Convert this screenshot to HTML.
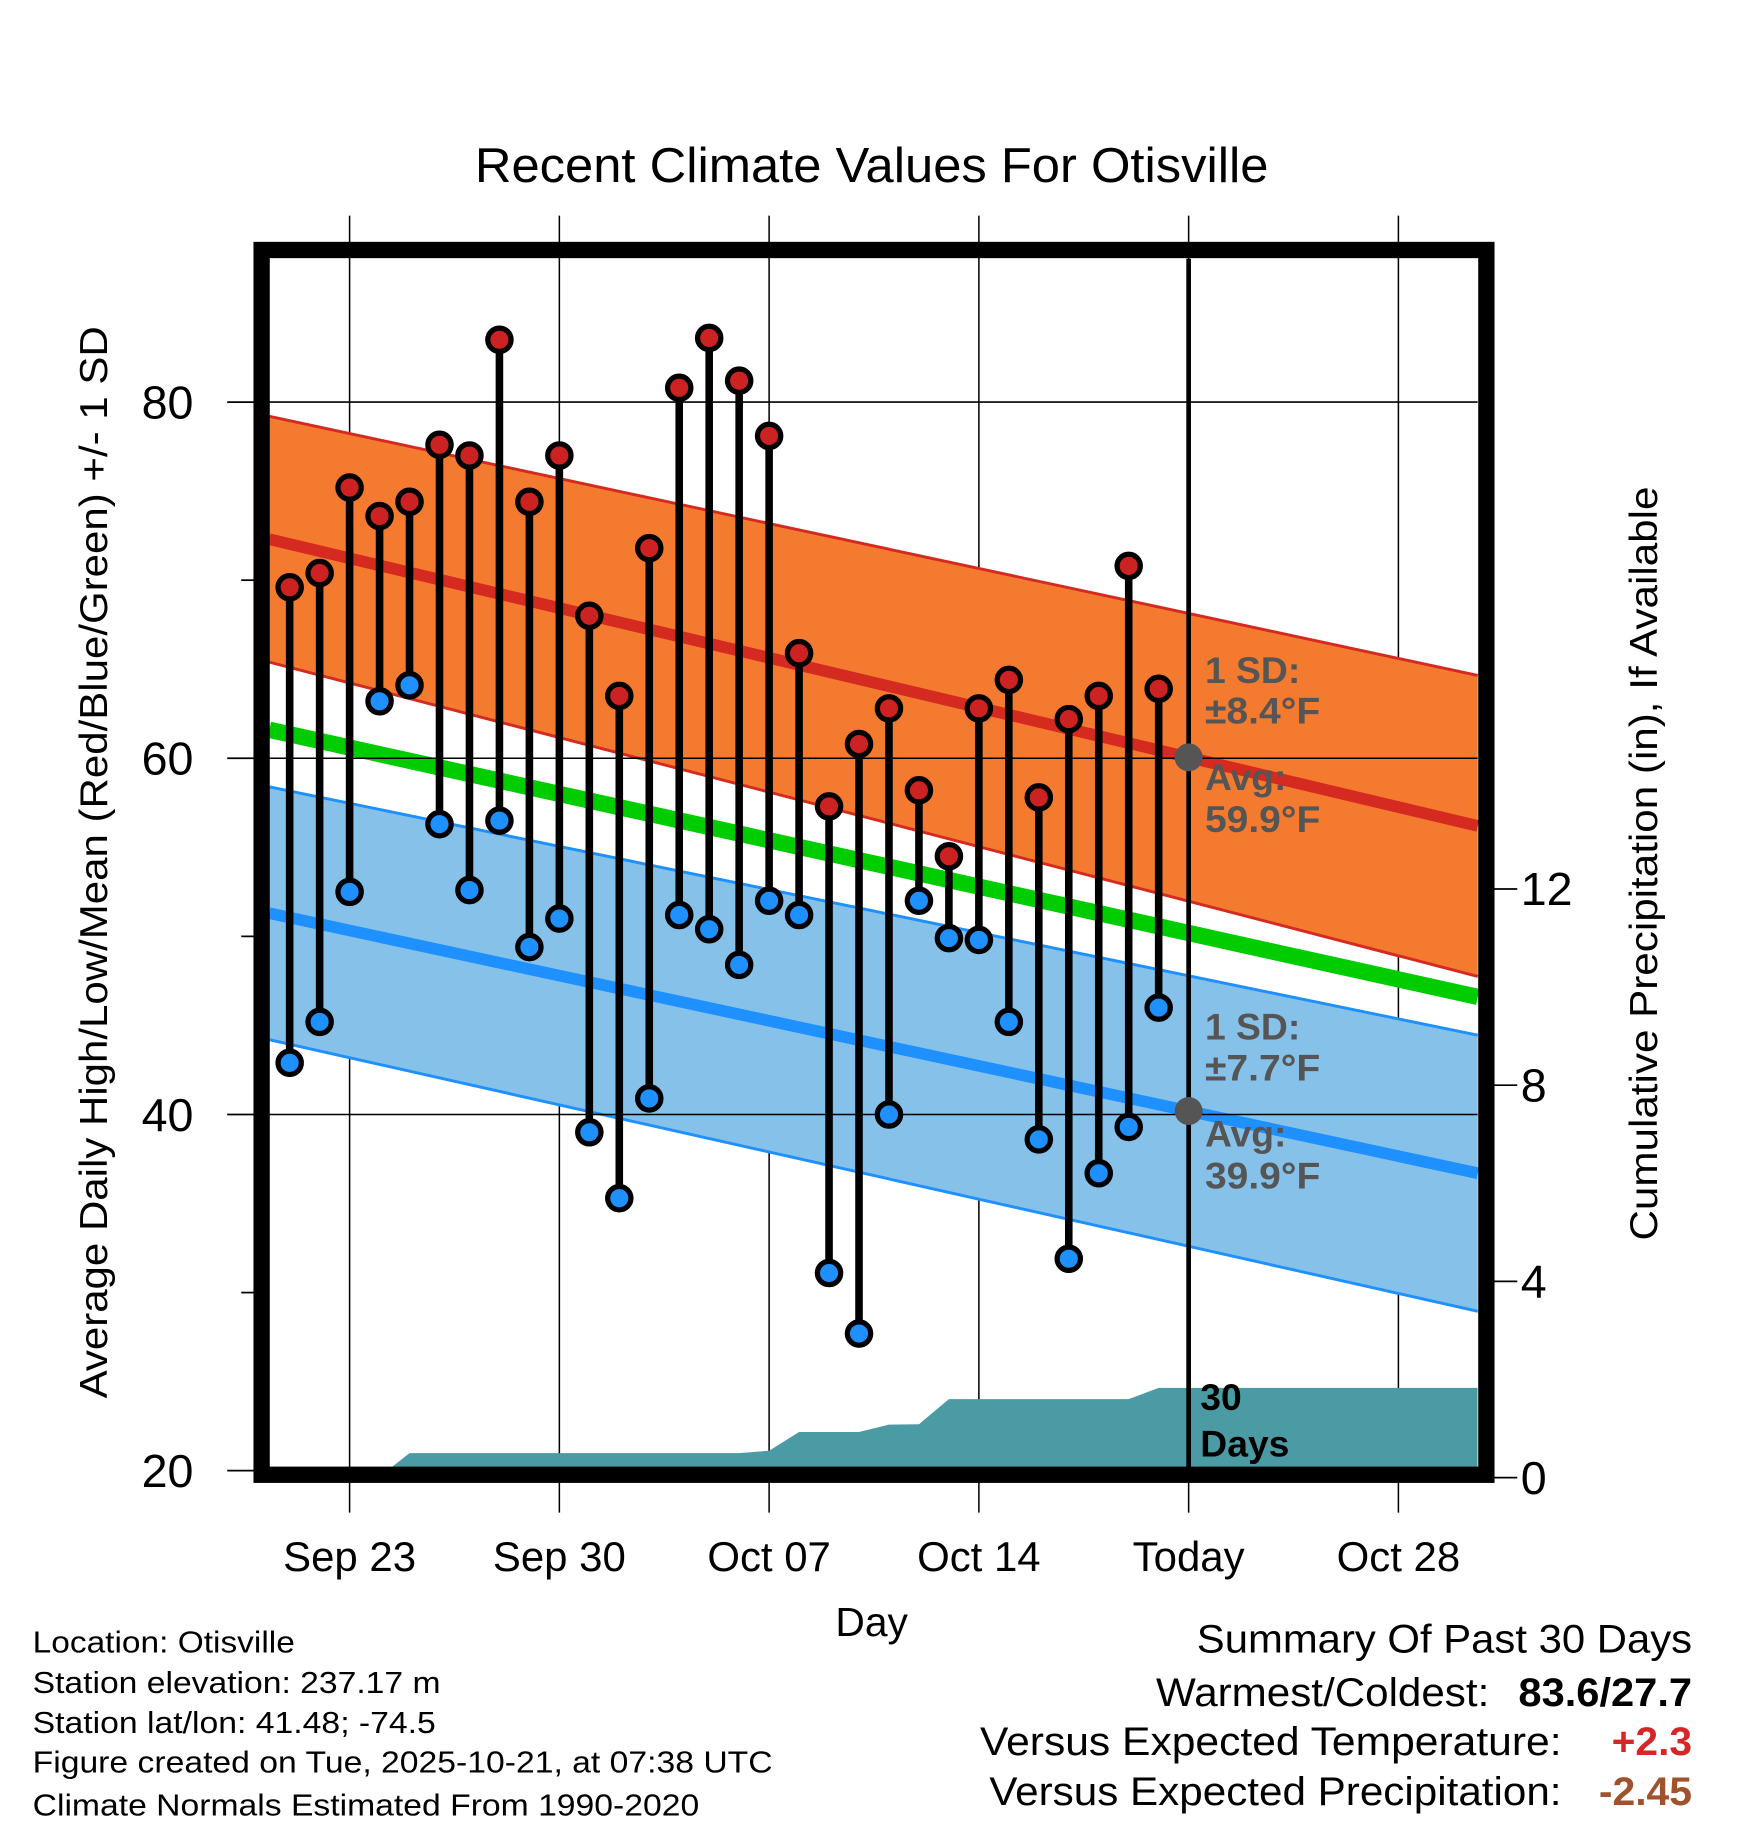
<!DOCTYPE html>
<html><head><meta charset="utf-8"><style>
html,body{margin:0;padding:0;background:#fff}
svg{display:block;font-family:"Liberation Sans",Arial,sans-serif}
</style></head><body>
<svg id="chart" width="1748" height="1828" viewBox="0 0 1500 1568.6" xmlns="http://www.w3.org/2000/svg">
<rect width="1500" height="1568.6" fill="#fff"/>
<text x="748" y="156" font-size="42" text-anchor="middle" textLength="681" lengthAdjust="spacingAndGlyphs">Recent Climate Values For Otisville</text>
<g id="plot"></g>
<text transform="translate(92,740) rotate(-90)" font-size="33" text-anchor="middle" textLength="920" lengthAdjust="spacingAndGlyphs">Average Daily High/Low/Mean (Red/Blue/Green) +/- 1 SD</text>
<text transform="translate(1422,741) rotate(-90)" font-size="33" text-anchor="middle" textLength="647" lengthAdjust="spacingAndGlyphs">Cumulative Precipitation (in), If Available</text>
<text x="748" y="1404" font-size="35" text-anchor="middle">Day</text>
<g font-size="26.5">
<text x="28" y="1418" textLength="225" lengthAdjust="spacingAndGlyphs">Location: Otisville</text>
<text x="28" y="1453" textLength="350" lengthAdjust="spacingAndGlyphs">Station elevation: 237.17 m</text>
<text x="28" y="1487" textLength="346" lengthAdjust="spacingAndGlyphs">Station lat/lon: 41.48; -74.5</text>
<text x="28" y="1521" textLength="635" lengthAdjust="spacingAndGlyphs">Figure created on Tue, 2025-10-21, at 07:38 UTC</text>
<text x="28" y="1558" textLength="572" lengthAdjust="spacingAndGlyphs">Climate Normals Estimated From 1990-2020</text>
</g>
<g font-size="34">
<text x="1027" y="1418" textLength="425" lengthAdjust="spacingAndGlyphs">Summary Of Past 30 Days</text>
<text x="992" y="1464" textLength="286" lengthAdjust="spacingAndGlyphs">Warmest/Coldest:</text>
<text x="1303" y="1464" font-weight="bold" textLength="149" lengthAdjust="spacingAndGlyphs">83.6/27.7</text>
<text x="841" y="1506" textLength="499" lengthAdjust="spacingAndGlyphs">Versus Expected Temperature:</text>
<text x="1383" y="1506" font-weight="bold" fill="#d62728" textLength="69" lengthAdjust="spacingAndGlyphs">+2.3</text>
<text x="849" y="1549" textLength="491" lengthAdjust="spacingAndGlyphs">Versus Expected Precipitation:</text>
<text x="1372" y="1549" font-weight="bold" fill="#a0522d" textLength="80" lengthAdjust="spacingAndGlyphs">-2.45</text>
</g>
</svg>
<script>
const highs=[69.6,70.4,75.2,73.6,74.4,77.6,77.0,83.5,74.4,77.0,68.0,63.5,71.8,80.8,83.6,81.2,78.1,65.9,57.3,60.8,62.8,58.2,54.5,62.8,64.4,57.8,62.2,63.5,70.8,63.9];
const lows=[42.9,45.2,52.5,63.2,64.1,56.3,52.6,56.5,49.4,51.0,39.0,35.3,40.9,51.2,50.4,48.4,52.0,51.2,31.1,27.7,40.0,52.0,49.9,49.8,45.2,38.6,31.9,36.7,39.3,46.0];
const precip=[0,0,0,0.02,0.5,0.5,0.5,0.5,0.5,0.5,0.5,0.5,0.5,0.5,0.5,0.5,0.55,0.93,0.93,0.93,1.08,1.09,1.6,1.6,1.6,1.6,1.6,1.6,1.6,1.83];
const normDays=[-2.68,37.65];
const normHigh=[72.3,56.2];
const normHighSD=[6.9,8.45];
const normLow=[51.3,36.7];
const normLowSD=[7.1,7.75];
const normMean=[61.6,46.6];
const xTickDays=[0,7,14,21,28,35];
const xTickLabels=["Sep 23","Sep 30","Oct 07","Oct 14","Today","Oct 28"];
const yTicks=[20,40,60,80];
const yMinor=[30,50,70];
const y2Ticks=[0,4,8,12];
const firstDay=-2, todayDay=28;

const NS="http://www.w3.org/2000/svg";
const X=d=>300+d*180/7;
const Y=v=>1262-(v-20)*917/60;
const Y2=p=>1268-p*42.1;
const T=222,B=1260;
const plot=document.getElementById('plot');
function mk(tag,attrs,parent){const e=document.createElementNS(NS,tag);for(const k in attrs)e.setAttribute(k,attrs[k]);(parent||plot).appendChild(e);return e;}
const xL=231,xR=1268;
function band(avg,sd,fill,edge,lineCol,name,lw){
  const p=[[X(normDays[0]),Y(avg[0]+sd[0])],[X(normDays[1]),Y(avg[1]+sd[1])],[X(normDays[1]),Y(avg[1]-sd[1])],[X(normDays[0]),Y(avg[0]-sd[0])]];
  const g=mk('polygon',{points:p.map(q=>q.join(',')).join(' '),fill:fill,stroke:'none'});
  
  
  [1,-1].forEach(s=>{const l=mk('line',{x1:X(normDays[0]),y1:Y(avg[0]+s*sd[0]),x2:X(normDays[1]),y2:Y(avg[1]+s*sd[1]),stroke:edge,'stroke-width':2.5});
    
    });
  const a=mk('line',{x1:X(normDays[0]),y1:Y(avg[0]),x2:X(normDays[1]),y2:Y(avg[1]),stroke:lineCol,'stroke-width':lw});
  
  
}
const clip=mk('clipPath',{id:'pc'});mk('rect',{x:xL,y:T,width:xR-xL,height:B-T},clip);
xTickDays.forEach(d=>{const l=mk('line',{x1:X(d),y1:185,x2:X(d),y2:1298,stroke:'#000','stroke-width':1.3});
  
  });
band(normHigh,normHighSD,'#f47a30','#d42a20','#d42a20','high-normal',10);
band(normLow,normLowSD,'#85c1e9','#1e90ff','#1e90ff','low-normal',10);
const gm=mk('line',{x1:X(normDays[0]),y1:Y(normMean[0]),x2:X(normDays[1]),y2:Y(normMean[1]),stroke:'#00cc00','stroke-width':14});


let pts=[[xL,Y2(0)]];
precip.forEach((p,i)=>pts.push([X(firstDay+i),Y2(p)]));
pts.push([xR,Y2(precip[precip.length-1])]);pts.push([xR,Y2(0)]);
const pa=mk('polygon',{points:pts.map(q=>q.join(',')).join(' '),fill:'#4a9ba4','clip-path':'url(#pc)'});


yTicks.forEach(v=>{if(v===20)return;const l=mk('line',{x1:xL,y1:Y(v),x2:xR,y2:Y(v),stroke:'#000','stroke-width':1.3});
  
  });
const tl=mk('line',{x1:X(todayDay),y1:T,x2:X(todayDay),y2:B,stroke:'#000','stroke-width':4});


const annH=normHigh[0]+(normHigh[1]-normHigh[0])*(todayDay-normDays[0])/(normDays[1]-normDays[0]);
const annL=normLow[0]+(normLow[1]-normLow[0])*(todayDay-normDays[0])/(normDays[1]-normDays[0]);
[[annH,'high'],[annL,'low']].forEach(([v,n])=>{const c=mk('circle',{cx:X(todayDay),cy:Y(v),r:12,fill:'#555'});
  
  });
function txt(x,y,s,attrs,name){const t=mk('text',Object.assign({x:x,y:y},attrs));t.textContent=s;
  
  return t;}
const an={'font-size':32,'font-weight':'bold',fill:'#555'};
txt(1034,586,'1 SD:',an,'high-sd-label');
txt(1034,621,'±8.4°F',Object.assign({textLength:99,lengthAdjust:'spacingAndGlyphs'},an),'high-sd-value');
txt(1034,678,'Avg:',an,'high-avg-label');
txt(1034,714,'59.9°F',Object.assign({textLength:99,lengthAdjust:'spacingAndGlyphs'},an),'high-avg-value');
txt(1034,892,'1 SD:',an,'low-sd-label');
txt(1034,927,'±7.7°F',Object.assign({textLength:99,lengthAdjust:'spacingAndGlyphs'},an),'low-sd-value');
txt(1034,984,'Avg:',an,'low-avg-label');
txt(1034,1020,'39.9°F',Object.assign({textLength:99,lengthAdjust:'spacingAndGlyphs'},an),'low-avg-value');
txt(1030,1210,'30',{'font-size':32,'font-weight':'bold'},'days-label');
txt(1030,1250,'Days',{'font-size':32,'font-weight':'bold'},'days-label-2');
highs.forEach((h,i)=>{const x=X(firstDay+i);
  const s=mk('line',{x1:x,y1:Y(h),x2:x,y2:Y(lows[i]),stroke:'#000','stroke-width':6.5});
  
  });
highs.forEach((h,i)=>{const x=X(firstDay+i);
  const a=mk('circle',{cx:x,cy:Y(h),r:10,fill:'#cc2222',stroke:'#000','stroke-width':4.5});
  
  
  const b=mk('circle',{cx:x,cy:Y(lows[i]),r:10,fill:'#1e90ff',stroke:'#000','stroke-width':4.5});
  
  });
const fr=mk('rect',{x:224.5,y:214.5,width:1051,height:1051,fill:'none',stroke:'#000','stroke-width':14});


yTicks.forEach(v=>{const l=mk('line',{x1:195,y1:Y(v),x2:218,y2:Y(v),stroke:'#000','stroke-width':1.5});
  
  
  txt(166,Y(v)+14,String(v),{'font-size':40,'text-anchor':'end'},'y-tick-label');});
yMinor.forEach(v=>{const l=mk('line',{x1:207,y1:Y(v),x2:218,y2:Y(v),stroke:'#000','stroke-width':1.5});
  
  });
y2Ticks.forEach(p=>{const l=mk('line',{x1:1282,y1:Y2(p),x2:1302,y2:Y2(p),stroke:'#000','stroke-width':1.5});
  
  
  txt(1305,Y2(p)+14,String(p),{'font-size':40},'y2-tick-label');});
xTickDays.forEach((d,i)=>txt(X(d),1348,xTickLabels[i],{'font-size':36,'text-anchor':'middle'},'x-tick-label'));
</script>
</body></html>
